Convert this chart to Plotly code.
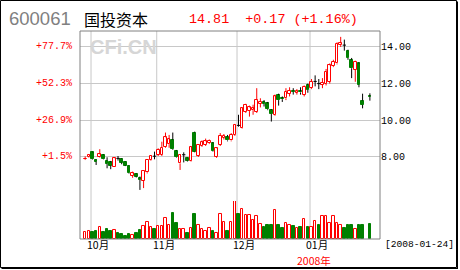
import plotly.graph_objects as go

# ---------------- data ----------------
stock_code = "600061"
stock_name = "国投资本"
last_price = 14.81
price_change = 0.17
change_pct = 1.16
end_date = "2008-01-24"
year_label = "2008年"

month_starts = [2, 20, 42, 62]
month_labels = ["10月", "11月", "12月", "01月"]
price_ticks = [8, 10, 12, 14]

opens = [7.87, 7.98, 8.25, 7.84, 7.98, 8.11, 7.80, 7.70, 7.47, 7.92,
         7.89, 7.74, 7.51, 6.96, 7.07, 6.87, 6.71, 7.16, 7.84, 8.04,
         8.11, 8.10, 8.56, 8.70, 8.93, 8.34, 7.65, 8.12, 7.93, 7.80,
         9.33, 8.05, 8.60, 8.65, 8.75, 8.75, 8.00, 8.65, 9.05, 9.10,
         8.90, 9.20, 9.72, 9.60, 10.47, 10.50, 10.55, 10.47, 10.90, 11.00,
         10.93, 10.56, 10.30, 11.38, 11.20, 11.20, 11.45, 11.62, 11.50, 11.58,
         11.38, 11.93, 11.75, 12.12, 12.00, 11.95, 12.00, 12.10, 12.95, 13.10,
         14.10, 14.10, 13.80, 13.30, 12.75, 13.10, 11.07, None, 11.32]
highs = [8.03, 8.16, 8.28, 7.87, 8.42, 8.14, 7.98, 7.78, 7.95, 8.05,
         7.92, 7.76, 7.53, 7.20, 7.10, 6.93, 7.27, 7.87, 8.10, 8.29,
         8.47, 8.83, 9.33, 9.20, 9.33, 8.38, 8.15, 8.25, 7.96, 8.60,
         9.38, 8.70, 8.90, 9.00, 8.95, 8.80, 8.50, 9.30, 9.25, 9.20,
         9.30, 9.80, 10.30, 10.70, 10.90, 10.80, 10.85, 11.75, 11.20, 11.10,
         11.00, 10.60, 11.40, 11.45, 11.30, 11.75, 11.80, 11.75, 11.70, 11.80,
         11.90, 12.00, 12.25, 12.45, 12.25, 12.30, 12.80, 13.10, 13.30, 14.25,
         14.55, 14.40, 13.85, 13.40, 13.25, 13.15, 11.45, None, 11.47]
lows = [7.83, 7.95, 7.86, 7.56, 7.95, 7.85, 7.38, 7.33, 7.45, 7.80,
        7.60, 7.50, 7.08, 6.86, 6.88, 6.20, 6.30, 7.10, 7.80, 7.87,
        8.05, 8.05, 8.50, 8.50, 8.38, 7.95, 7.29, 7.70, 7.75, 7.75,
        8.25, 8.00, 8.55, 8.60, 8.70, 8.29, 7.95, 8.60, 8.95, 8.85,
        8.85, 9.15, 9.65, 9.55, 10.40, 10.20, 10.30, 10.40, 10.70, 10.75,
        10.55, 9.93, 10.25, 10.80, 11.00, 11.10, 11.30, 11.40, 11.40, 11.40,
        11.30, 11.50, 11.70, 11.85, 11.70, 11.75, 11.90, 12.00, 12.90, 13.05,
        14.00, 13.80, 13.30, 12.30, 12.10, 11.80, 10.65, None, 11.07]
closes = [7.88, 8.11, 7.89, 7.74, 8.14, 7.87, 7.62, 7.53, 7.93, 7.92,
          7.69, 7.53, 7.11, 7.11, 6.93, 6.74, 7.25, 7.84, 8.05, 8.04,
          8.38, 8.50, 9.07, 8.96, 8.42, 7.98, 8.11, 8.12, 7.80, 8.53,
          8.29, 8.65, 8.80, 8.85, 8.89, 8.32, 8.47, 9.14, 9.15, 8.90,
          9.20, 9.75, 9.72, 10.65, 10.84, 10.70, 10.65, 11.10, 11.00, 10.90,
          10.60, 10.34, 11.30, 11.10, 11.15, 11.56, 11.60, 11.55, 11.57, 11.52,
          11.84, 11.65, 12.10, 12.12, 12.00, 12.05, 12.65, 13.00, 13.20, 14.16,
          14.20, 14.10, 13.40, 12.84, 13.20, 11.93, 10.84, None, 11.28]
volumes = [67, 83, 70, 80, 123, 70, 100, 80, 87, 57,
           50, 30, 50, 40, 60, 90, 130, 173, 123, 97,
           130, 130, 207, 140, 260, 160, 97, 97, 60, 107,
           250, 140, 97, 80, 107, 80, 63, 247, 167, 80,
           167, 377, 250, 297, 237, 237, 190, 233, 150, 123,
           140, 140, 290, 140, 107, 157, 140, 133, 107, 123,
           197, 117, 117, 183, 140, 230, 230, 157, 230, 157,
           140, 110, 140, 140, 97, 140, 140, None, 150]

RED = "#ff0000"
GREEN = "#008000"
BLACK = "#000000"
GRID = "#c8c8c8"

# ---------------- geometry helpers (pixel -> paper) ----------------
W, H = 460, 270
ML, MR, MT, MB = 80, 80, 31, 31
PW, PH = W - ML - MR, H - MT - MB


def px(xp):
    return (xp - ML) / PW


def py(yp):
    return (H - MB - yp) / PH


# ---------------- build marks ----------------
up_x, up_b, up_h = [], [], []
dn_x, dn_b, dn_h = [], [], []
wr_x, wr_y, wk_x, wk_y = [], [], [], []
dj_x, dj_y = [], []
vu_x, vu_y, vd_x, vd_y = [], [], [], []
prev_close = None
for i in range(len(opens)):
    o, h, l, c, v = opens[i], highs[i], lows[i], closes[i], volumes[i]
    if o is None:
        continue
    top, bot = max(o, c), min(o, c)
    if c > o:
        up_x.append(i); up_b.append(o); up_h.append(c - o)
        wr_x += [i, i, None, i, i, None]; wr_y += [h, top, None, bot, l, None]
        rising = True
    elif c < o:
        dn_x.append(i); dn_b.append(c); dn_h.append(o - c)
        wk_x += [i, i, None, i, i, None]; wk_y += [h, top, None, bot, l, None]
        rising = False
    else:
        wk_x += [i, i, None]; wk_y += [h, l, None]
        dj_x += [i - 0.45, i + 0.45, None]; dj_y += [c, c, None]
        rising = prev_close is None or c >= prev_close
    if rising:
        vu_x.append(i); vu_y.append(v)
    else:
        vd_x.append(i); vd_y.append(v)
    prev_close = c

fig = go.Figure()
fig.add_trace(go.Scatter(x=wr_x, y=wr_y, mode="lines", line=dict(color=RED, width=1),
                         hoverinfo="skip", yaxis="y"))
fig.add_trace(go.Scatter(x=wk_x, y=wk_y, mode="lines", line=dict(color=BLACK, width=1),
                         hoverinfo="skip", yaxis="y"))
fig.add_trace(go.Scatter(x=dj_x, y=dj_y, mode="lines", line=dict(color=BLACK, width=1),
                         hoverinfo="skip", yaxis="y"))
fig.add_trace(go.Bar(x=up_x, y=up_h, base=up_b, width=0.72, yaxis="y",
                     marker=dict(color="white", line=dict(color=RED, width=1))))
fig.add_trace(go.Bar(x=dn_x, y=dn_h, base=dn_b, width=0.72, yaxis="y",
                     marker=dict(color=GREEN, line=dict(color=GREEN, width=1))))
fig.add_trace(go.Bar(x=vu_x, y=vu_y, width=0.7, yaxis="y2",
                     marker=dict(color="white", line=dict(color=RED, width=1))))
fig.add_trace(go.Bar(x=vd_x, y=vd_y, width=0.7, yaxis="y2",
                     marker=dict(color=GREEN, line=dict(color=GREEN, width=1))))

x0 = -1.42
x1 = 80.77

shapes = []
for m in month_starts:
    shapes.append(dict(type="line", xref="x", yref="paper", x0=m - 0.4, x1=m - 0.4,
                       y0=0, y1=1, line=dict(color=GRID, width=1), layer="below"))
shapes.append(dict(type="rect", xref="paper", yref="paper", x0=0, x1=1, y0=0, y1=1,
                   line=dict(color="#808080", width=1), layer="above"))
# outer frame
shapes.append(dict(type="rect", xref="paper", yref="paper",
                   x0=px(0.5), x1=px(456.5), y0=py(267.5), y1=py(0.5),
                   line=dict(color=BLACK, width=1), layer="above"))
shapes.append(dict(type="line", xref="paper", yref="paper", x0=px(457.5), x1=px(457.5),
                   y0=py(268.5), y1=py(1.5), line=dict(color=BLACK, width=1)))
shapes.append(dict(type="line", xref="paper", yref="paper", x0=px(1.5), x1=px(458),
                   y0=py(268.5), y1=py(268.5), line=dict(color=BLACK, width=1)))

mono = "Liberation Mono"
cjk = "Noto Sans CJK SC"
ann = []
ann.append(dict(text=stock_code, x=px(7), y=py(19), xref="paper", yref="paper",
                xanchor="left", yanchor="middle", showarrow=False,
                font=dict(family="Liberation Sans", size=18.5, color="#808080")))
ann.append(dict(text=stock_name, x=px(82), y=py(19), xref="paper", yref="paper",
                xanchor="left", yanchor="middle", showarrow=False,
                font=dict(family=cjk, size=16, color=BLACK)))
ann.append(dict(text=f"{last_price:.2f}  {price_change:+.2f} ({change_pct:+.2f}%)",
                x=px(187), y=py(20), xref="paper", yref="paper",
                xanchor="left", yanchor="middle", showarrow=False,
                font=dict(family=mono, size=13.4, color=RED)))
ann.append(dict(text="<b>CFi.CN</b>", x=px(88), y=py(47), xref="paper", yref="paper",
                xanchor="left", yanchor="middle", showarrow=False,
                font=dict(family="Liberation Sans", size=20, color="#d6d6d6")))
base_price = closes[0]
for p in price_ticks:
    ann.append(dict(text=f"{(p / base_price - 1) * 100:+.1f}%", x=px(74), y=p,
                    xref="paper", yref="y", xanchor="right", yanchor="middle",
                    showarrow=False, font=dict(family=mono, size=10, color=RED)))
for m, lab in zip(month_starts, month_labels):
    ann.append(dict(text=lab, x=m - 0.4, y=py(245), xref="x", yref="paper",
                    xanchor="left", yanchor="middle", xshift=-6, showarrow=False,
                    font=dict(family=cjk, size=10.5, color=BLACK)))
ann.append(dict(text=year_label, x=px(313.5), y=py(260.5), xref="paper", yref="paper",
                xanchor="center", yanchor="middle", showarrow=False,
                font=dict(family=cjk, size=10.5, color=RED)))
ann.append(dict(text=f"[{end_date}]", x=px(383), y=py(245), xref="paper", yref="paper",
                xanchor="left", yanchor="middle", showarrow=False,
                font=dict(family=mono, size=9.6, color=BLACK)))

fig.update_layout(
    width=W, height=H, margin=dict(l=ML, r=MR, t=MT, b=MB, pad=0),
    paper_bgcolor="white", plot_bgcolor="white", showlegend=False,
    barmode="overlay", bargap=0,
    font=dict(family=cjk, size=10, color=BLACK),
    xaxis=dict(range=[x0, x1], showgrid=False, zeroline=False, showticklabels=False,
               ticks="", anchor="y2", fixedrange=True),
    yaxis=dict(domain=[0.1875, 1], range=[5.65, 14.87], side="right", anchor="x",
               tickvals=price_ticks, ticktext=[f"{p:.2f}" for p in price_ticks],
               showgrid=True, gridcolor=GRID, gridwidth=1, zeroline=False, ticks="",
               tickfont=dict(family=mono, size=10, color=BLACK)),
    yaxis2=dict(domain=[0, 0.1827], range=[0, 380], anchor="x", showgrid=False,
                zeroline=False, showticklabels=False, ticks=""),
    shapes=shapes, annotations=ann,
)

fig.write_html("out.html")
